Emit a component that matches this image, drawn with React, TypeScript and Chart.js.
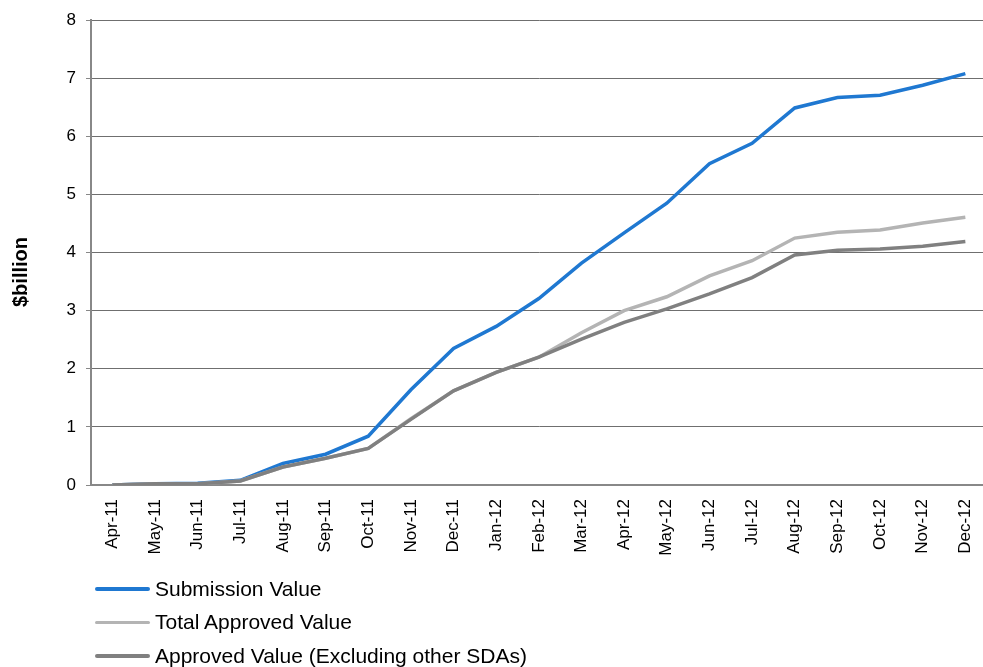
import React, { useEffect, useRef } from "react";
import { Chart, registerables } from "chart.js";

Chart.register(...registerables);

const months = [
  "Apr-11", "May-11", "Jun-11", "Jul-11", "Aug-11", "Sep-11", "Oct-11", "Nov-11", "Dec-11",
  "Jan-12", "Feb-12", "Mar-12", "Apr-12", "May-12", "Jun-12", "Jul-12", "Aug-12", "Sep-12",
  "Oct-12", "Nov-12", "Dec-12",
];
const submissionValue = [0, 0.02, 0.03, 0.08, 0.37, 0.53, 0.84, 1.64, 2.35, 2.73, 3.21, 3.82, 4.34, 4.85, 5.53, 5.88, 6.49, 6.67, 6.71, 6.88, 7.08];
const totalApprovedValue = [0, 0.02, 0.02, 0.07, 0.31, 0.46, 0.63, 1.14, 1.62, 1.94, 2.2, 2.62, 3.0, 3.24, 3.6, 3.86, 4.25, 4.35, 4.39, 4.51, 4.61];
const approvedExclValue = [0, 0.02, 0.02, 0.07, 0.31, 0.46, 0.63, 1.13, 1.62, 1.94, 2.2, 2.51, 2.8, 3.03, 3.29, 3.57, 3.96, 4.04, 4.06, 4.11, 4.19];
const seriesNames = ["Submission Value", "Total Approved Value", "Approved Value (Excluding other SDAs)"];
const seriesColors = ["#1F78D1", "#B4B4B4", "#808080"];
const yTitle = "$billion";

const FONT = "'Liberation Sans', Arial, sans-serif";

export default function App() {
  const ref = useRef<HTMLCanvasElement | null>(null);

  useEffect(() => {
    document.body.style.margin = "0";
    document.body.style.overflow = "hidden";
    const titlePlugin = {
      id: "ytitle",
      afterDraw(chart: any) {
        const ctx = chart.ctx;
        ctx.save();
        ctx.translate(21, 272);
        ctx.rotate(-Math.PI / 2);
        ctx.font = `bold 20px ${FONT}`;
        ctx.fillStyle = "#000";
        ctx.textAlign = "center";
        ctx.textBaseline = "middle";
        ctx.fillText(yTitle, 0, 0);
        ctx.restore();
      },
    };
    const values = [submissionValue, totalApprovedValue, approvedExclValue];
    const chart = new Chart(ref.current!, {
      type: "line",
      data: {
        labels: months,
        datasets: values.map((v, i) => ({
          label: seriesNames[i],
          data: v,
          borderColor: seriesColors[i],
          backgroundColor: seriesColors[i],
          borderWidth: 3.5,
          pointRadius: 0,
          tension: 0,
          order: 3 - i,
        })),
      },
      options: {
        animation: false,
        responsive: false,
        layout: { padding: { top: 18, right: 10.5, left: 0, bottom: 0 } },
        plugins: { legend: { display: false }, tooltip: { enabled: false } },
        scales: {
          x: {
            offset: true,
            grid: { display: false, drawTicks: false },
            border: { color: "#888", width: 2 },
            ticks: {
              minRotation: 90,
              maxRotation: 90,
              padding: 14,
              color: "#000",
              font: { family: FONT, size: 17 },
              autoSkip: false,
            },
            afterFit(scale: any) {
              scale.height = 182;
            },
          },
          y: {
            min: 0,
            max: 8,
            grid: { color: "#6f6f6f", lineWidth: 1, tickLength: 5, tickColor: "#888" },
            border: { color: "#888", width: 2 },
            ticks: {
              stepSize: 1,
              padding: 10,
              color: "#000",
              font: { family: FONT, size: 17 },
            },
            afterFit(scale: any) {
              scale.width = 91;
            },
          },
        },
      },
      plugins: [titlePlugin],
    });
    return () => chart.destroy();
  }, []);

  return (
    <div style={{ position: "absolute", left: 0, top: 0, width: 983, height: 667, overflow: "hidden", background: "#fff" }}>
      <canvas ref={ref} width={1000} height={667} style={{ width: 1000, height: 667, display: "block" }} />
      <div style={{ position: "absolute", left: 95, top: 572, fontFamily: FONT, fontSize: 21, color: "#000" }}>
        {seriesNames.map((n, i) => (
          <div key={n} style={{ display: "flex", alignItems: "center", height: 33.5, whiteSpace: "nowrap" }}>
            <span style={{ display: "inline-block", width: 55, height: 3.5, background: seriesColors[i], marginRight: 5, borderRadius: 2 }} />
            <span>{n}</span>
          </div>
        ))}
      </div>
    </div>
  );
}
